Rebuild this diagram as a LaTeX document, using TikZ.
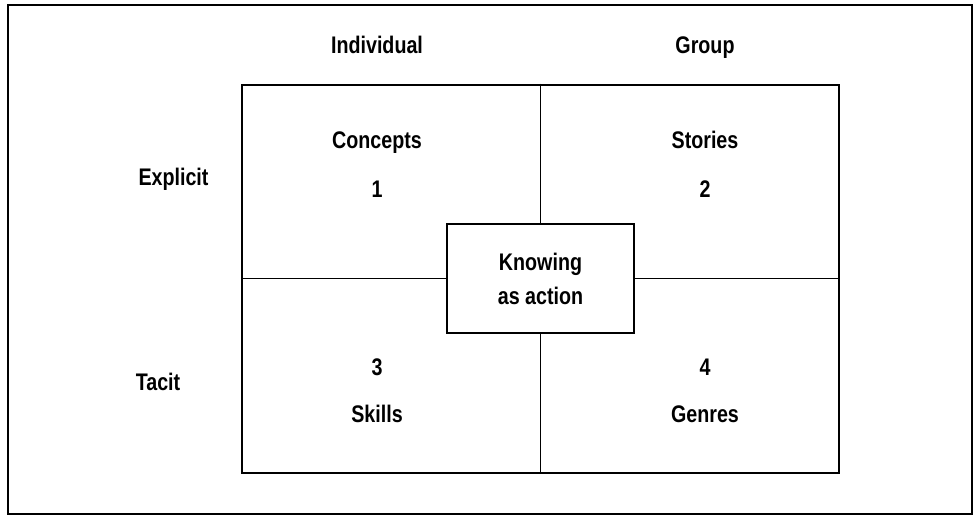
\documentclass[tikz,border=0pt]{standalone}
\usepackage{fontspec}
\setmainfont{Liberation Sans}[FakeStretch=0.82]
\usepackage{xcolor}

\begin{document}
\begin{tikzpicture}[x=0.5pt, y=-0.5pt,
  lbl/.style={anchor=base, font=\fontsize{12}{12}\selectfont\bfseries},
  box/.style={draw, line width=1pt, inner sep=0pt}]
\useasboundingbox (0,0) rectangle (973,515);
\def \gridw {298.5pt}
\def \gridh {194pt}

% outer frame
\draw[line width=0.9pt] (8,5) rectangle (972,514);

\node[box, minimum width=\gridw, minimum height=\gridh] at (540.5,278.5) (grid) {};
\node[box, minimum width=93.5pt, minimum height=54.5pt, fill=white, align=center,
  font=\fontsize{12}{17}\selectfont\bfseries] at (540.5,278.5) (ka) {Knowing\\as action};

\draw[line width=0.6pt] (grid.north) -- (ka.north);
\draw[line width=0.6pt] (ka.south) -- (grid.south);
\draw[line width=0.6pt] (grid.west) -- (ka.west);
\draw[line width=0.6pt] (ka.east) -- (grid.east);

\node[lbl] at (377,53) (ind) {Individual};
\node[lbl] at (705,53) (grp) {Group};
\node[lbl] at (173.5,185) (expl) {Explicit};
\node[lbl] at (158,390) (tac) {Tacit};

\node[lbl] at (377,148) (c1) {Concepts};
\node[lbl] at (377,197) (n1) {1};
\node[lbl] at (705,148) (c2) {Stories};
\node[lbl] at (705,197) (n2) {2};
\node[lbl] at (377,375) (n3) {3};
\node[lbl] at (377,422) (c3) {Skills};
\node[lbl] at (705,375) (n4) {4};
\node[lbl] at (705,422) (c4) {Genres};

\end{tikzpicture}
\end{document}
